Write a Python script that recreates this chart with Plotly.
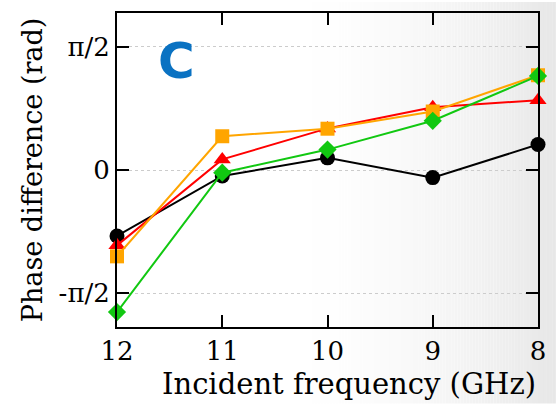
import math
import plotly.graph_objects as go

freq = [12, 11, 10, 9, 8]
black_vals = [-0.84, -0.076, 0.155, -0.097, 0.324]
red_vals = [-0.96, 0.135, 0.53, 0.80, 0.89]
orange_vals = [-1.10, 0.43, 0.526, 0.745, 1.207]
green_vals = [-1.81, -0.034, 0.26, 0.627, 1.198]
ytick_vals = [-math.pi / 2, 0, math.pi / 2]
ytick_text = ["-π/2", "0", "π/2"]
x_title = "Incident frequency (GHz)"
y_title = "Phase difference (rad)"

W, H = 557, 404
ML, MR, MT, MB = 117, 16, 11, 77
PW, PH = W - ML - MR, H - MT - MB
SERIF = "DejaVu Serif"

fig = go.Figure()

series = [
    (black_vals, "black", "circle", 15),
    (red_vals, "#ff0000", "triangle-up", 15),
    (orange_vals, "#ffa500", "square", 14),
    (green_vals, "#11c811", "diamond", 14),
]
for vals, col, sym, sz in series:
    fig.add_trace(go.Scatter(
        x=freq, y=vals, mode="lines+markers",
        line=dict(color=col, width=2),
        marker=dict(color=col, symbol=sym, size=sz, line=dict(width=0)),
        cliponaxis=False, showlegend=False,
    ))

# background gradient (styling)
shapes = []
start_px = 280
step = 3
for px in range(start_px, W, step):
    t = (px - start_px) / (W - start_px)
    g = int(round(255 - 24 * t ** 1.8))
    x0 = (px - ML) / PW
    x1 = (px + step - ML) / PW
    shapes.append(dict(type="rect", xref="paper", yref="paper",
                       x0=x0, x1=x1, y0=-MB / PH, y1=1 + MT / PH,
                       fillcolor=f"rgb({g},{g},{g})", line=dict(width=0),
                       layer="below"))

fig.update_layout(
    width=W, height=H,
    margin=dict(l=ML, r=MR, t=MT, b=MB, pad=0),
    paper_bgcolor="white", plot_bgcolor="rgba(0,0,0,0)",
    font=dict(family=SERIF, size=27, color="black"),
    shapes=shapes,
    xaxis=dict(
        range=[12, 8], tickvals=freq, ticktext=[str(f) for f in freq],
        ticks="inside", ticklen=12, tickwidth=2, tickcolor="black",
        showline=True, linecolor="black", linewidth=2, mirror="ticks",
        showgrid=False, zeroline=False,
        tickfont=dict(family=SERIF, size=26),
    ),
    yaxis=dict(
        range=[-2.0, 2.0], tickvals=ytick_vals, ticktext=ytick_text,
        ticks="inside", ticklen=12, tickwidth=2, tickcolor="black",
        showline=True, linecolor="black", linewidth=2, mirror="ticks",
        showgrid=True, gridcolor="#cccccc", griddash="dot", gridwidth=1,
        zeroline=False,
        title=dict(text=y_title, standoff=8,
                   font=dict(family=SERIF, size=27)),
        tickfont=dict(family=SERIF, size=26),
    ),
    annotations=[
        dict(
            text="<b>C</b>", xref="paper", yref="paper",
            x=(177 - ML) / PW, y=(H - MB - 59) / PH,
            xanchor="center", yanchor="middle", showarrow=False,
            font=dict(family="DejaVu Sans", size=50, color="#0a72c2"),
        ),
        dict(
            text=x_title, xref="paper", yref="paper",
            x=(351 - ML) / PW, y=(H - MB - 384) / PH,
            xanchor="center", yanchor="middle", showarrow=False,
            font=dict(family=SERIF, size=29, color="black"),
        ),
    ],
)

fig.write_html("out.html")
